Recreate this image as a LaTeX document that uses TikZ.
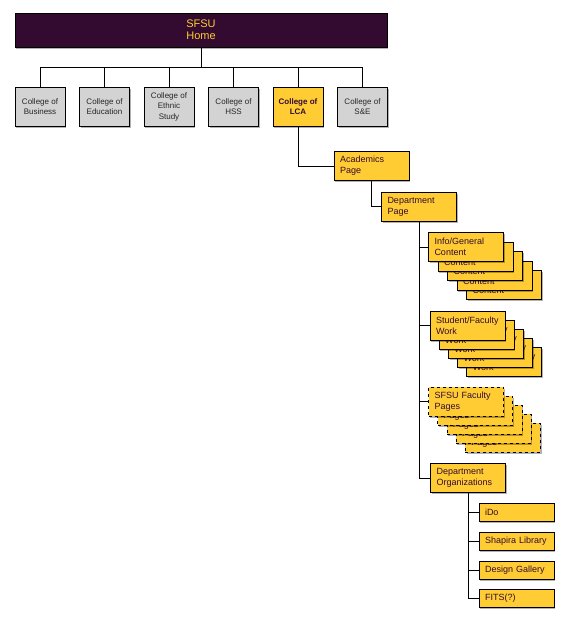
\documentclass[tikz,border=0pt]{standalone}
\usepackage{fontspec}
\setmainfont{Liberation Sans}
\usetikzlibrary{positioning,shadows}

\definecolor{sfsupurple}{HTML}{330A30}
\definecolor{sfsugold}{HTML}{FFCC33}
\definecolor{boxgray}{HTML}{D3D3D3}

\begin{document}
\begin{tikzpicture}[x=1pt,y=-1pt,
        boxshadow/.style={drop shadow={shadow xshift=1.2pt, shadow yshift=-1.5pt, opacity=0.3, fill=black}},
        home/.style={rectangle, draw=black, line width=0.8pt, fill=sfsupurple, text=sfsugold, minimum width=372pt, minimum height=34pt, align=center, font=\fontsize{11}{12}\selectfont, boxshadow},
        college/.style={rectangle, draw=black, line width=0.8pt, fill=boxgray, text=black!85, minimum width=50pt, minimum height=39pt, inner sep=1pt, align=center, font=\fontsize{8}{10.5}\selectfont, boxshadow},
        page/.style={rectangle, draw=black, line width=0.8pt, fill=sfsugold, text=sfsupurple, text width=63pt, inner xsep=6pt, minimum height=29pt, align=left, font=\fontsize{9}{11}\selectfont, boxshadow},
        leaf/.style={page, minimum height=18pt, inner ysep=2pt},
        link/.style={draw=black, line width=0.8pt},
    ]
    \useasboundingbox (0,0) rectangle (569,625);

    \node[home] (home) at (201,30) {SFSU\\Home};

    \node[college] (business) at (40,106.5) {College of\\Business};
    \node[college] (education) [right=13.7pt of business] {College of\\Education};
    \node[college] (ethnic) [right=13.7pt of education] {College of\\Ethnic\\Study};
    \node[college] (hss) [right=13.7pt of ethnic] {College of\\HSS};
    \node[college, fill=sfsugold, text=sfsupurple, font=\fontsize{8}{10.5}\selectfont\bfseries] (lca) [right=13.7pt of hss] {College of\\LCA};
    \node[college] (se) [right=13.7pt of lca] {College of\\S\&E};

    \foreach \c in {business,education,ethnic,hss,lca,se}
        \draw[link] (home.south) -- ++(0,20) -| (\c.north);

    \node[page] (academics) at (371.5,166) {Academics\\Page};
    \node[page] (department) at (419,206.5) {Department\\Page};

    \foreach \k in {4,3,...,0}
        \node[page] (info\k) at (466+\k*9.5,247+\k*9.5) {Info/General\\Content};
    \foreach \k in {4,3,...,0}
        \node[page] (work\k) at (467.5+\k*9.2,325.5+\k*9) {Student/Faculty\\Work};
    \foreach \k in {4,3,...,0}
        \node[page, dashed] (faculty\k) at (466+\k*9.2,401.5+\k*9) {SFSU Faculty\\Pages};

    \node[page] (organizations) at (468,478) {Department\\Organizations};

    \node[leaf] (ido) at (516.5,512) {iDo};
    \node[leaf] (shapira) at (516.5,541) {Shapira Library};
    \node[leaf] (gallery) at (516.5,570) {Design Gallery};
    \node[leaf] (fits) at (516.5,598.5) {FITS(?)};

    \draw[link] (lca.south) |- (academics.west);
    \draw[link] (academics.south) |- (department.west);
    \draw[link] (department.south) |- (info0.west);
    \draw[link] (department.south) |- (work0.west);
    \draw[link] (department.south) |- (faculty0.west);
    \draw[link] (department.south) |- (organizations.west);
    \foreach \o in {ido,shapira,gallery,fits}
        \draw[link] (organizations.south) |- (\o.west);
\end{tikzpicture}
\end{document}
